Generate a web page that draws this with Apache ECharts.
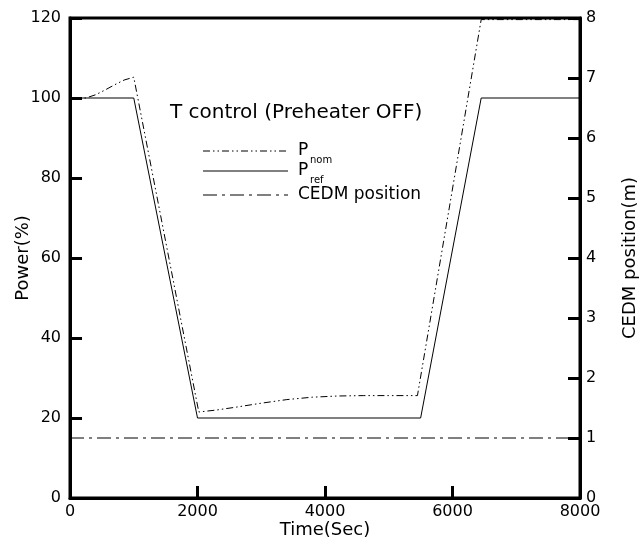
<!DOCTYPE html>
<html>
<head>
<meta charset="utf-8">
<script src="https://cdn.jsdelivr.net/npm/echarts@6/dist/echarts.min.js"></script>
<style>
html,body{margin:0;padding:0;background:#fff;}
#chart{width:644px;height:547px;}
</style>
</head>
<body>
<div id="chart"></div>
<script>
// Data
var prefTimes = [0, 1000, 2000, 5500, 6450, 8000];
var prefValues = [100, 100, 20, 20, 100, 100];

var pnomTimes = [0, 250, 400, 550, 700, 850, 1000, 2020, 2300, 2600, 3000, 3400, 3800, 4200, 4600, 5000, 5450, 6450, 6550, 8000];
var pnomValues = [100, 100, 100.8, 102, 103.3, 104.5, 105.2, 21.5, 22.0, 22.7, 23.7, 24.6, 25.2, 25.5, 25.6, 25.6, 25.6, 119.6, 119.6, 119.6];

var cedmTimes = [0, 8000];
var cedmValues = [1, 1];

var xTicks = [0, 2000, 4000, 6000, 8000];
var powerTicks = [0, 20, 40, 60, 80, 100, 120];
var cedmTicks = [0, 1, 2, 3, 4, 5, 6, 7, 8];

function pairs(xs, ys) { return xs.map(function (x, i) { return [x, ys[i]]; }); }

var FONT = '"DejaVu Sans", "Liberation Sans", Arial, sans-serif';
var chart = echarts.init(document.getElementById('chart'));

var axisLine = { show: true, lineStyle: { color: '#000', width: 3 } };
var axisTick = { show: true, inside: true, length: 12, lineStyle: { color: '#000', width: 3 } };
function plain(v) { return String(v); }

chart.setOption({
  animation: false,
  backgroundColor: '#fff',
  grid: { left: 70, right: 64, top: 18, bottom: 49, containLabel: false, outerBoundsMode: 'none', show: true, borderColor: '#000', borderWidth: 3, backgroundColor: 'transparent' },
  xAxis: {
    type: 'value', min: xTicks[0], max: xTicks[xTicks.length - 1], interval: 2000,
    axisLine: axisLine, axisTick: axisTick, splitLine: { show: false },
    axisLabel: { fontSize: 16, color: '#000', margin: 6, fontFamily: FONT, formatter: plain },
    name: 'Time(Sec)', nameLocation: 'middle', nameGap: 23, nameMoveOverlap: false,
    nameTextStyle: { fontSize: 18, color: '#000', fontFamily: FONT }
  },
  yAxis: [{
    type: 'value', min: powerTicks[0], max: powerTicks[powerTicks.length - 1], interval: 20,
    axisLine: axisLine, axisTick: axisTick, splitLine: { show: false },
    axisLabel: { fontSize: 16, color: '#000', margin: 9, fontFamily: FONT, formatter: plain },
    name: 'Power(%)', nameLocation: 'middle', nameRotate: 90, nameGap: 38, nameMoveOverlap: false,
    nameTextStyle: { fontSize: 18, color: '#000', fontFamily: FONT }
  }, {
    type: 'value', position: 'right', min: cedmTicks[0], max: cedmTicks[cedmTicks.length - 1], interval: 1,
    axisLine: axisLine, axisTick: axisTick, splitLine: { show: false },
    axisLabel: { fontSize: 16, color: '#000', margin: 6, fontFamily: FONT, formatter: plain },
    name: 'CEDM position(m)', nameLocation: 'middle', nameRotate: 90, nameGap: 41,
    nameTextStyle: { fontSize: 18, color: '#000', fontFamily: FONT }
  }],
  series: [{
    name: 'Pnom', type: 'line', yAxisIndex: 0, showSymbol: false, smooth: false,
    data: pairs(pnomTimes, pnomValues),
    lineStyle: { color: '#000', width: 1, type: [7, 3, 1.5, 3, 1.5, 3] }
  }, {
    name: 'Pref', type: 'line', yAxisIndex: 0, showSymbol: false,
    data: pairs(prefTimes, prefValues),
    lineStyle: { color: '#000', width: 1, type: 'solid' }
  }, {
    name: 'CEDM position', type: 'line', yAxisIndex: 1, showSymbol: false,
    data: pairs(cedmTimes, cedmValues),
    lineStyle: { color: '#000', width: 1, type: [14, 5, 3, 5] }
  }],
  graphic: [
    { type: 'text', left: 170, top: 103, style: { text: 'T control (Preheater OFF)', font: '20px ' + FONT, fill: '#000' } },
    { type: 'line', shape: { x1: 203, y1: 151, x2: 288, y2: 151 }, style: { stroke: '#000', lineWidth: 1, lineDash: [7, 3, 1.5, 3, 1.5, 3] } },
    { type: 'line', shape: { x1: 203, y1: 171, x2: 288, y2: 171 }, style: { stroke: '#000', lineWidth: 1 } },
    { type: 'line', shape: { x1: 203, y1: 195, x2: 288, y2: 195 }, style: { stroke: '#000', lineWidth: 1, lineDash: [14, 5, 3, 5] } },
    { type: 'text', left: 298, top: 142, style: { text: 'P', font: '17px ' + FONT, fill: '#000' } },
    { type: 'text', left: 310, top: 155, style: { text: 'nom', font: '10px ' + FONT, fill: '#000' } },
    { type: 'text', left: 298, top: 162, style: { text: 'P', font: '17px ' + FONT, fill: '#000' } },
    { type: 'text', left: 310, top: 175, style: { text: 'ref', font: '10px ' + FONT, fill: '#000' } },
    { type: 'text', left: 298, top: 186, style: { text: 'CEDM position', font: '17px ' + FONT, fill: '#000' } }
  ]
});
</script>
</body>
</html>
